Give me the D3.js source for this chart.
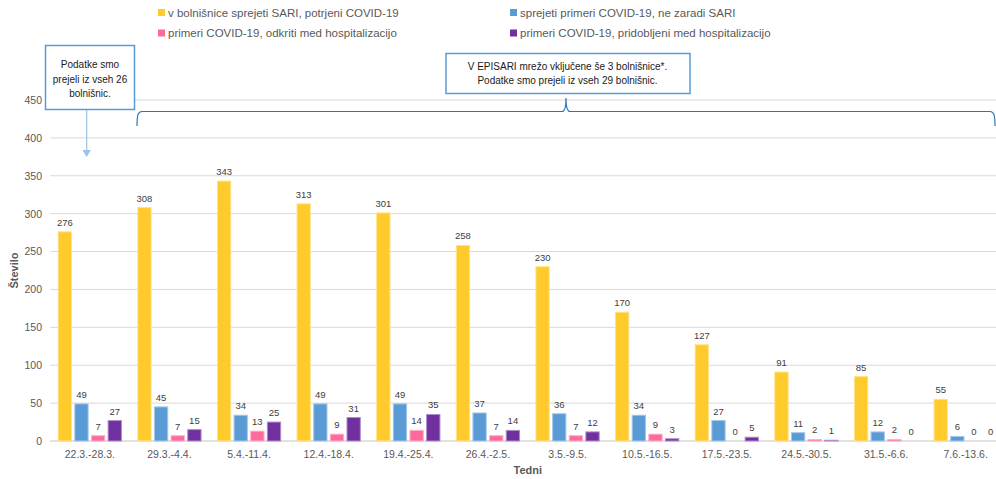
<!DOCTYPE html>
<html><head><meta charset="utf-8">
<script src="https://cdn.jsdelivr.net/npm/d3@7"></script>
<style>
html,body{margin:0;padding:0;background:#fff;}
svg{display:block;font-family:"Liberation Sans",Arial,sans-serif;}
</style></head>
<body>
<svg id="chart" width="996" height="479"></svg>
<script>
const categories = ["22.3.-28.3.","29.3.-4.4.","5.4.-11.4.","12.4.-18.4.","19.4.-25.4.","26.4.-2.5.","3.5.-9.5.","10.5.-16.5.","17.5.-23.5.","24.5.-30.5.","31.5.-6.6.","7.6.-13.6."];
const sariCovid     = [276,308,343,313,301,258,230,170,127,91,85,55];
const notSari       = [49,45,34,49,49,37,36,34,27,11,12,6];
const detectedHosp  = [7,7,13,9,14,7,7,9,0,2,2,0];
const acquiredHosp  = [27,15,25,31,35,14,12,3,5,1,0,0];
const seriesNames = ["v bolnišnice sprejeti SARI, potrjeni COVID-19","sprejeti primeri COVID-19, ne zaradi SARI","primeri COVID-19, odkriti med hospitalizacijo","primeri COVID-19, pridobljeni med hospitalizacijo"];
const yTicks = [0,50,100,150,200,250,300,350,400,450];
const note1 = ["Podatke smo","prejeli iz vseh 26","bolnišnic."];
const note2 = ["V EPISARI mrežo vključene še 3 bolnišnice*.","Podatke smo prejeli iz vseh 29 bolnišnic."];

const colors = ["#FFCA2C","#5B9BD5","#FF6A9C","#7030A0"];
const seriesValues = [sariCovid, notSari, detectedHosp, acquiredHosp];

const svg = d3.select("#chart");
const pLeft = 50, pRight = 1005.5, pTop = 100, pBottom = 441;

const x0 = d3.scaleBand().domain(categories).range([pLeft, pRight]).padding(0);
const x1 = d3.scaleBand().domain(d3.range(4)).range([6.5, 73.1]).paddingInner(0.2).paddingOuter(0.1);
const y = d3.scaleLinear().domain([0,450]).range([pBottom, pTop]);

// gridlines
svg.append("g").selectAll("line").data(yTicks).join("line")
  .attr("x1", pLeft).attr("x2", 996)
  .attr("y1", d=>y(d)).attr("y2", d=>y(d))
  .attr("stroke", "#D9D9D9").attr("stroke-width", d=> d===0?1.5:1);

// y axis
const yAxis = svg.append("g").attr("transform", `translate(${pLeft-8},0)`)
  .call(d3.axisLeft(y).tickValues(yTicks).tickSize(0).tickPadding(0));
yAxis.select(".domain").remove();
yAxis.selectAll("text").attr("fill","#595959").style("font-size","10.5px").style("font-family","Liberation Sans, Arial, sans-serif");

// x axis
const xAxis = svg.append("g").attr("transform", `translate(0,${pBottom+6})`)
  .call(d3.axisBottom(x0).tickSize(0).tickPadding(4));
xAxis.select(".domain").remove();
xAxis.selectAll("text").attr("fill","#595959").style("font-size","10.5px").style("font-family","Liberation Sans, Arial, sans-serif");

// bars
const rows = categories.map((c,i)=>({cat:c, vals: seriesValues.map(s=>s[i])}));
const g = svg.append("g").selectAll("g").data(rows).join("g")
  .attr("transform", d=>`translate(${x0(d.cat)},0)`);
g.selectAll("rect").data(d=>d.vals.map((v,k)=>({v,k}))).join("rect")
  .attr("x", d=>x1(d.k)).attr("width", x1.bandwidth())
  .attr("y", d=>y(d.v)).attr("height", d=>pBottom - y(d.v))
  .attr("fill", d=>colors[d.k])
  .attr("stroke", d=>d.v>0 ? d3.interpolateRgb(colors[d.k], "#ffffff")(0.45) : "none")
  .attr("stroke-width", 1);
g.selectAll("text").data(d=>d.vals.map((v,k)=>({v,k}))).join("text")
  .attr("x", d=>x1(d.k)+x1.bandwidth()/2).attr("y", d=>y(d.v)-6)
  .attr("text-anchor","middle").attr("fill","#404040").style("font-size","9.5px")
  .text(d=>d.v);

// axis titles
svg.append("text").attr("x",(pLeft+pRight)/2).attr("y",474).attr("text-anchor","middle")
  .attr("fill","#595959").style("font-size","11px").style("font-weight","bold").text("Tedni");
svg.append("text").attr("transform",`translate(18,${(pTop+pBottom)/2}) rotate(-90)`).attr("text-anchor","middle")
  .attr("fill","#595959").style("font-size","11px").style("font-weight","bold").text("Število");

// legend
const legPos = [[158,12.5],[510,12.5],[158,33],[510,33]];
const leg = svg.append("g").selectAll("g").data(seriesNames).join("g")
  .attr("transform",(d,i)=>`translate(${legPos[i][0]},${legPos[i][1]})`);
leg.append("rect").attr("x",0).attr("y",-3.5).attr("width",7).attr("height",7).attr("fill",(d,i)=>colors[i]);
leg.append("text").attr("x",10).attr("y",4).attr("fill","#595959").style("font-size","11.5px").text(d=>d);

// note boxes
svg.append("rect").attr("x",45.5).attr("y",45.5).attr("width",89).attr("height",64)
  .attr("fill","#fff").attr("stroke","#5B9BD5").attr("stroke-width",1.5);
svg.append("g").selectAll("text").data(note1).join("text")
  .attr("x",90).attr("y",(d,i)=>68+i*14.5).attr("text-anchor","middle")
  .attr("fill","#1a1a1a").style("font-size","10px").text(d=>d);

svg.append("rect").attr("x",446).attr("y",53.5).attr("width",244).attr("height",40)
  .attr("fill","#fff").attr("stroke","#5B9BD5").attr("stroke-width",1.5);
svg.append("g").selectAll("text").data(note2).join("text")
  .attr("x",567.5).attr("y",(d,i)=>70+i*14).attr("text-anchor","middle")
  .attr("fill","#1a1a1a").style("font-size","10px").text(d=>d);

// arrow from box 1
svg.append("line").attr("x1",86.7).attr("x2",86.7).attr("y1",110).attr("y2",151)
  .attr("stroke","#9DC3E6").attr("stroke-width",1.2);
svg.append("path").attr("d","M82.5,150 L90.9,150 L86.7,157 Z").attr("fill","#9DC3E6");

// brace
const by = 111.5;
svg.append("path")
  .attr("d",`M137,126 C137,115 138,${by} 142,${by} L562,${by} C565,${by} 566,104 566,98 C566,104 567,${by} 570,${by} L990,${by} C994,${by} 995,115 995,126`)
  .attr("fill","none").attr("stroke","#2E75B6").attr("stroke-width",1.2);
</script>
</body></html>
